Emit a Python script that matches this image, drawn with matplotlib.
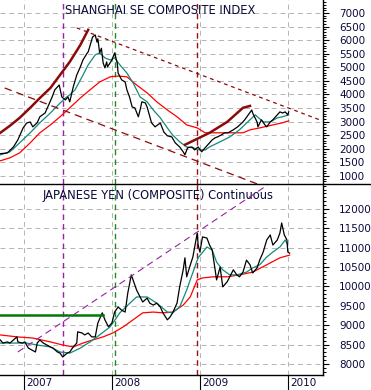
import matplotlib
matplotlib.use("Agg")
import matplotlib.pyplot as plt
from matplotlib.ticker import MultipleLocator
from matplotlib.lines import Line2D

# --- Shanghai SE Composite (decimal years, index points) ---
sh_years = [2006.73, 2006.81, 2006.88, 2006.93, 2006.99, 2007.03, 2007.07, 2007.10, 2007.15, 2007.18,
            2007.24, 2007.27, 2007.32, 2007.35, 2007.40, 2007.43, 2007.47, 2007.50, 2007.52, 2007.56,
            2007.60, 2007.64, 2007.67, 2007.72, 2007.73, 2007.77, 2007.78, 2007.81, 2007.83, 2007.84,
            2007.86, 2007.88, 2007.90, 2007.92, 2007.94, 2007.95, 2008.00, 2008.03, 2008.06, 2008.07,
            2008.11, 2008.15, 2008.17, 2008.20, 2008.23, 2008.26, 2008.30, 2008.32, 2008.34, 2008.38,
            2008.40, 2008.45, 2008.49, 2008.52, 2008.55, 2008.59, 2008.63, 2008.68, 2008.72, 2008.77,
            2008.81, 2008.83, 2008.86, 2008.91, 2008.94, 2008.98, 2009.02, 2009.06, 2009.09, 2009.14,
            2009.17, 2009.20, 2009.25, 2009.28, 2009.32, 2009.38, 2009.43, 2009.49, 2009.51, 2009.55,
            2009.59, 2009.60, 2009.65, 2009.66, 2009.70, 2009.74, 2009.76, 2009.80, 2009.83, 2009.88,
            2009.91, 2009.94, 2009.97, 2010.00, 2010.01]
sh_close = [1820, 1850, 2070, 2330, 2770, 2950, 2990, 2810, 2960, 3180,
            3320, 3540, 3910, 4170, 4350, 3910, 3800, 3910, 3730, 4280,
            4720, 5010, 5270, 5530, 5570, 6010, 6120, 6190, 5930, 6050,
            5530, 5700, 5160, 4980, 5200, 5020, 5270, 5530, 5160, 4790,
            4540, 4460, 4170, 3910, 3540, 3510, 3180, 3430, 3730, 3690,
            3540, 2960, 2810, 2880, 2950, 2620, 2480, 2440, 2220, 2070,
            1890, 1780, 2040, 2070, 1960, 2070, 1890, 2040, 2150, 2330,
            2400, 2440, 2520, 2590, 2590, 2700, 2810, 2990, 3070, 3250,
            3430, 3320, 2990, 2810, 3070, 2880, 2810, 2990, 3070, 3250,
            3360, 3320, 3360, 3250, 3360]

sh_ma_fast_years = [2006.73, 2006.84, 2006.95, 2007.07, 2007.18, 2007.30, 2007.39, 2007.47, 2007.52, 2007.58,
                    2007.66, 2007.73, 2007.81, 2007.86, 2007.92, 2007.98, 2008.03, 2008.09, 2008.17, 2008.24,
                    2008.32, 2008.40, 2008.47, 2008.55, 2008.63, 2008.69, 2008.77, 2008.85, 2008.92, 2009.00,
                    2009.06, 2009.11, 2009.23, 2009.34, 2009.45, 2009.57, 2009.63, 2009.72, 2009.80, 2009.88,
                    2009.94, 2010.01]
sh_ma_fast = [1780, 1890, 2220, 2590, 2960, 3320, 3620, 3870, 3990, 4170,
              4650, 5090, 5460, 5530, 5350, 5270, 5350, 5090, 4790, 4430,
              3910, 3730, 3430, 3140, 2770, 2510, 2260, 2070, 2040, 1960,
              1960, 2070, 2260, 2440, 2700, 3070, 3250, 2990, 2990, 3140,
              3180, 3250]

sh_ma_slow_years = [2006.73, 2006.84, 2006.95, 2007.07, 2007.18, 2007.30, 2007.41, 2007.52, 2007.64, 2007.75,
                    2007.86, 2007.98, 2008.07, 2008.17, 2008.28, 2008.40, 2008.51, 2008.63, 2008.74, 2008.85,
                    2008.97, 2009.06, 2009.15, 2009.31, 2009.49, 2009.57, 2009.68, 2009.83, 2009.94, 2010.01]
sh_ma_slow = [1560, 1670, 1850, 2220, 2590, 2880, 3180, 3510, 3870, 4170,
              4460, 4650, 4680, 4650, 4350, 4060, 3730, 3430, 3180, 2880,
              2770, 2590, 2590, 2590, 2590, 2700, 2770, 2880, 2960, 3030]

# trend lines, top panel
sh_arc1_years = [2006.73, 2006.84, 2006.95, 2007.07, 2007.18, 2007.30, 2007.41, 2007.52, 2007.64, 2007.73]
sh_arc1 = [2590, 2850, 3140, 3510, 3870, 4240, 4720, 5200, 5820, 6380]
sh_arc2_years = [2008.83, 2009.11, 2009.31, 2009.49, 2009.57]
sh_arc2 = [2150, 2590, 2990, 3510, 3580]
sh_resist_years = [2007.60, 2010.36]
sh_resist = [6450, 3070]
sh_support_years = [2006.78, 2009.70]
sh_support = [4240, 650]

# --- Japanese Yen (Composite) ---
jy_years = [2006.73, 2006.76, 2006.81, 2006.84, 2006.88, 2006.92, 2006.93, 2006.98, 2007.01, 2007.05,
            2007.09, 2007.13, 2007.15, 2007.18, 2007.22, 2007.26, 2007.30, 2007.33, 2007.38, 2007.41,
            2007.44, 2007.49, 2007.52, 2007.56, 2007.60, 2007.61, 2007.66, 2007.69, 2007.73, 2007.77,
            2007.81, 2007.84, 2007.89, 2007.92, 2007.96, 2008.00, 2008.03, 2008.07, 2008.11, 2008.15,
            2008.18, 2008.22, 2008.24, 2008.28, 2008.32, 2008.35, 2008.40, 2008.43, 2008.47, 2008.51,
            2008.55, 2008.58, 2008.63, 2008.66, 2008.69, 2008.74, 2008.77, 2008.81, 2008.83, 2008.85,
            2008.89, 2008.92, 2008.97, 2008.98, 2009.00, 2009.03, 2009.08, 2009.11, 2009.14, 2009.17,
            2009.19, 2009.23, 2009.26, 2009.31, 2009.34, 2009.38, 2009.42, 2009.45, 2009.49, 2009.53,
            2009.57, 2009.60, 2009.65, 2009.68, 2009.72, 2009.76, 2009.80, 2009.83, 2009.88, 2009.91,
            2009.93, 2009.96, 2009.99, 2010.00, 2010.02]
jy_close = [8620, 8540, 8570, 8540, 8620, 8700, 8570, 8540, 8570, 8410,
            8360, 8310, 8540, 8620, 8540, 8490, 8440, 8410, 8310, 8280,
            8180, 8280, 8310, 8440, 8540, 8830, 8800, 8750, 8800, 8700,
            8700, 9060, 9320, 9140, 8960, 9060, 9340, 9470, 9390, 9340,
            9830, 10300, 10170, 9910, 9730, 9600, 9700, 9570, 9520, 9570,
            9470, 9320, 9140, 9210, 9320, 9570, 9990, 10430, 10740, 10250,
            10550, 10760, 11380, 11070, 10890, 11280, 11250, 11070, 10940, 10480,
            10170, 10500, 9990, 10120, 10250, 10430, 10300, 10250, 10370, 10680,
            10560, 10350, 10480, 10680, 10890, 11200, 11330, 11070, 11200, 11380,
            11640, 11330, 11200, 10890, 10860]

jy_ma_fast_years = [2006.73, 2006.88, 2007.03, 2007.15, 2007.30, 2007.41, 2007.52, 2007.64, 2007.75, 2007.86,
                    2007.98, 2008.09, 2008.18, 2008.28, 2008.40, 2008.51, 2008.63, 2008.69, 2008.77, 2008.85,
                    2008.89, 2008.98, 2009.08, 2009.14, 2009.19, 2009.26, 2009.34, 2009.42, 2009.53, 2009.60,
                    2009.68, 2009.76, 2009.83, 2009.91, 2009.97, 2010.00]
jy_ma_fast = [8540, 8540, 8540, 8490, 8440, 8310, 8280, 8410, 8570, 8750,
              8960, 9320, 9520, 9730, 9730, 9570, 9340, 9320, 9470, 9910,
              10170, 10740, 11020, 10940, 10630, 10430, 10300, 10300, 10370, 10480,
              10560, 10760, 10890, 11020, 11200, 11070]

jy_ma_slow_years = [2006.73, 2006.92, 2007.10, 2007.30, 2007.44, 2007.56, 2007.67, 2007.78, 2007.90, 2008.01,
                    2008.13, 2008.24, 2008.35, 2008.47, 2008.58, 2008.69, 2008.81, 2008.89, 2008.97, 2009.03,
                    2009.15, 2009.31, 2009.45, 2009.60, 2009.76, 2009.91, 2010.02]
jy_ma_slow = [8750, 8700, 8670, 8570, 8490, 8440, 8540, 8620, 8700, 8800,
              8960, 9140, 9320, 9340, 9320, 9340, 9520, 9730, 10170, 10220,
              10250, 10250, 10300, 10370, 10560, 10740, 10810]

jy_level_years = [2006.73, 2007.90]
jy_level = [9265, 9265]
jy_channel_years = [2006.93, 2009.77]
jy_channel = [8310, 12620]

years = [2007, 2008, 2009, 2010]
marker_purple = 2007.44
marker_green = 2008.03
marker_red = 2008.97

TXT = '#0a0a3c'
GRID = '#b4b4b4'

fig = plt.figure(figsize=(3.71, 3.90), dpi=100)
ax1 = fig.add_axes([0, 1 - 184 / 390, 323 / 371, 184 / 390])
ax2 = fig.add_axes([0, 1 - 375 / 390, 323 / 371, 191 / 390])

for ax in (ax1, ax2):
    ax.set_xlim(2006.727, 2010.40)
    for sp in ('left', 'top'):
        ax.spines[sp].set_visible(False)
    ax.spines['right'].set_linewidth(1.0)
    ax.yaxis.tick_right()
    ax.yaxis.set_minor_locator(MultipleLocator(100))
    ax.tick_params(axis='y', which='major', direction='out', length=4.5, width=0.8,
                   pad=7, labelsize=7.5, labelcolor=TXT)
    ax.tick_params(axis='y', which='minor', direction='out', length=2.2, width=0.7)
    for yr in years:
        ax.axvline(yr, color=GRID, lw=0.7, ls=(0, (5, 4)), zorder=1)
    # event markers
    ax.axvline(marker_purple, color='#9a1fa8', lw=1.0, ls=(0, (4, 3)), zorder=2)
    ax.axvline(marker_green, color='#1a8f1a', lw=1.0, ls=(0, (4, 3)), zorder=2)
    ax.axvline(marker_red, color='#9a1010', lw=1.0, ls=(0, (4, 3)), zorder=2)
    for lab in ax.get_yticklabels():
        lab.set_fontfamily('DejaVu Sans')

# top panel
ax1.set_ylim(706, 7478)
ax1.set_yticks(range(1000, 7001, 500))
ax1.spines['bottom'].set_visible(False)
ax1.set_xticks([])
for v in range(1000, 7001, 500):
    ax1.axhline(v, color=GRID, lw=0.7, ls=(0, (5, 4)), zorder=1)
ax1.plot(sh_ma_slow_years, sh_ma_slow, color='#ff0000', lw=0.9, zorder=3)
ax1.plot(sh_ma_fast_years, sh_ma_fast, color='#138a7a', lw=0.9, zorder=3)
ax1.plot(sh_years, sh_close, color='black', lw=0.9, zorder=4)
ax1.plot(sh_arc1_years, sh_arc1, color='#8b0a0a', lw=1.8, zorder=5)
ax1.plot(sh_arc2_years, sh_arc2, color='#8b0a0a', lw=1.8, zorder=5)
ax1.plot(sh_resist_years, sh_resist, color='#8b0a0a', lw=0.9, ls=(0, (3, 3)), zorder=5)
ax1.plot(sh_support_years, sh_support, color='#8b0a0a', lw=0.9, ls=(0, (6, 4)), zorder=5)
ax1.text(65 / 323, 1 - 11 / 184, 'SHANGHAI SE COMPOSITE INDEX', transform=ax1.transAxes,
         fontsize=8.3, color=TXT, va='center', ha='left', family='DejaVu Sans')

# bottom panel
ax2.set_ylim(7716, 12645)
ax2.set_yticks(range(8000, 12001, 500))
ax2.spines['top'].set_visible(False)
ax2.spines['bottom'].set_linewidth(1.0)
for v in range(8000, 12001, 500):
    ax2.axhline(v, color=GRID, lw=0.7, ls=(0, (5, 4)), zorder=1)
ax2.plot(jy_ma_slow_years, jy_ma_slow, color='#ff0000', lw=0.9, zorder=3)
ax2.plot(jy_ma_fast_years, jy_ma_fast, color='#138a7a', lw=0.9, zorder=3)
ax2.plot(jy_years, jy_close, color='black', lw=0.9, zorder=4)
ax2.plot(jy_level_years, jy_level, color='#007a00', lw=1.8, zorder=5)
ax2.plot(jy_channel_years, jy_channel, color='#9a1fa8', lw=0.8, ls=(0, (6, 4)), zorder=5)
ax2.text(43 / 323, 1 - 11 / 191, 'JAPANESE YEN (COMPOSITE) Continuous', transform=ax2.transAxes,
         fontsize=8.3, color=TXT, va='center', ha='left', family='DejaVu Sans')

ax2.set_xticks(years)
ax2.set_xticklabels([])
ax2.tick_params(axis='x', direction='out', length=10.8, width=0.8)
for yr in years:
    ax2.text(yr + 0.025, -0.042, str(yr), transform=ax2.get_xaxis_transform(),
             fontsize=7.5, color=TXT, va='center', ha='left', family='DejaVu Sans')

# separator between panels
fig.add_artist(Line2D([0, 1], [1 - 184 / 390, 1 - 184 / 390], color='black', lw=1.0,
                      transform=fig.transFigure))

fig.savefig('out.png', dpi=100)
